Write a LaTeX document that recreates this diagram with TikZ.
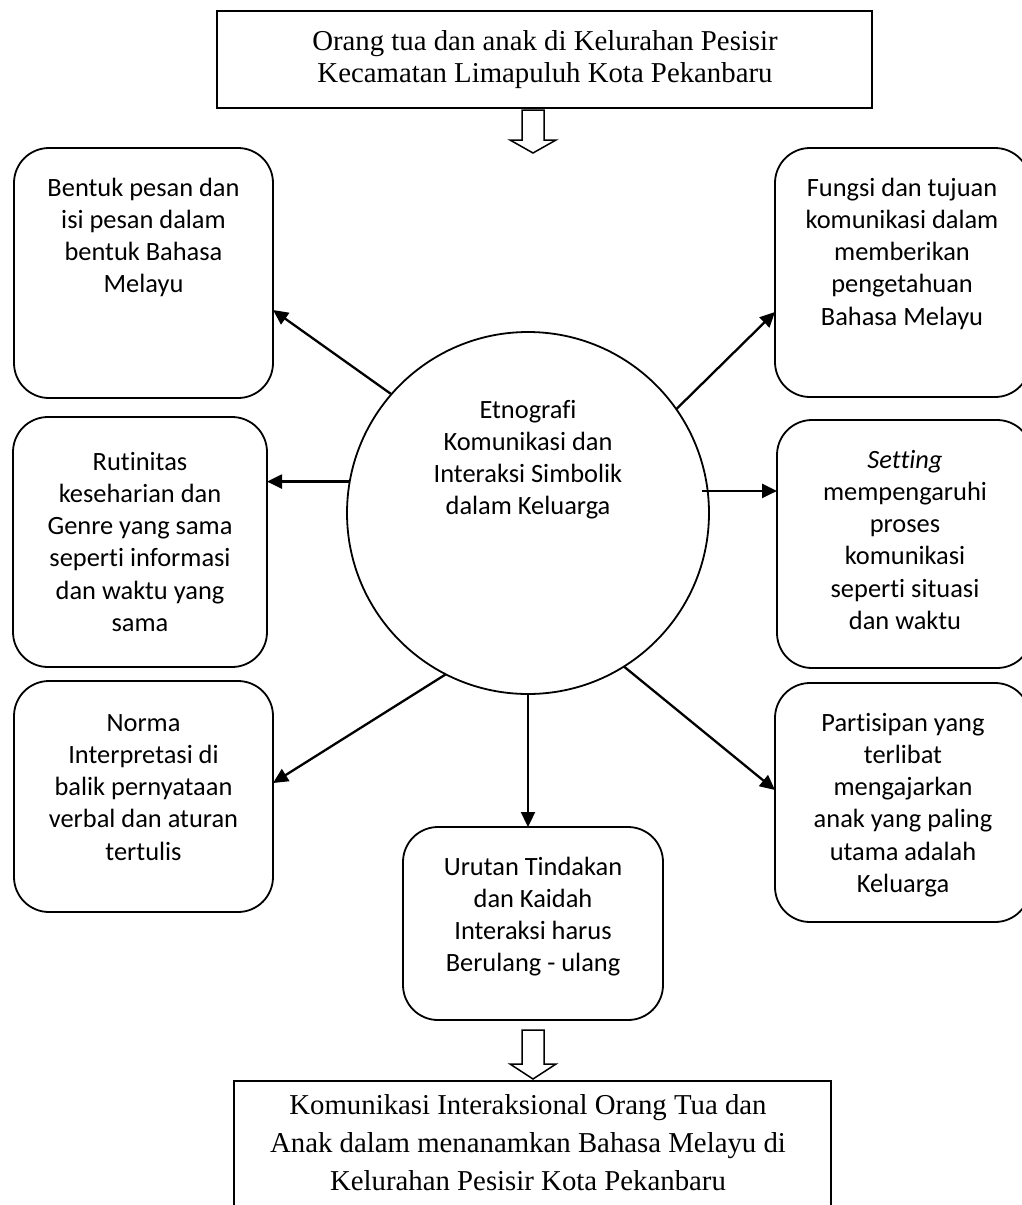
\documentclass[tikz,border=0pt]{standalone}
\usepackage{fontspec}
\setmainfont{Liberation Serif}
\newfontfamily\carlitofont[Ligatures=NoCommon]{Carlito}
\usetikzlibrary{arrows.meta}
\newcommand\sansfs{\carlitofont\fontsize{26.4}{32.2}\selectfont}
\newcommand\seriffs{\rmfamily\fontsize{28.8}{32.5}\selectfont}
\newcommand\seriffswide{\rmfamily\fontsize{28.8}{38}\selectfont}
\begin{document}
\begin{tikzpicture}[x=1pt,y=-1pt,
  rbox/.style={draw, line width=1.8pt, rounded corners=35pt, inner sep=0pt, outer sep=0pt},
  sbox/.style={draw, line width=2.2pt, inner sep=0pt, outer sep=0pt},
  stxt/.style={font=\sansfs, align=center, inner sep=0pt, anchor=north},
  rtxt/.style={font=\seriffs, align=center, inner sep=0pt, anchor=north},
  arr/.style={line width=2.3pt, -{Triangle[length=15pt,width=14pt]}},
  hollow/.style={draw, line width=1.5pt, fill=white}]
\useasboundingbox (0,0) rectangle (1022,1205);
\clip (0,0) rectangle (1022,1205);

% top and bottom boxes
\node[sbox, minimum width=655pt, minimum height=97pt] (top) at (544.5,59.5) {};
\node[rtxt] (toptxt) at (545,27.25) {\strut Orang tua dan anak di Kelurahan Pesisir\\Kecamatan Limapuluh Kota Pekanbaru};
\node[sbox, minimum width=597pt, minimum height=159pt] (bot) at (532.5,1160.5) {};
\node[rtxt, font=\seriffswide] (bottxt) at (528,1087.4) {\strut Komunikasi Interaksional Orang Tua dan\\Anak dalam menanamkan Bahasa Melayu di\\Kelurahan Pesisir Kota Pekanbaru};

% hollow arrows
\path[hollow] (522,110) -- (522,140) -- (510,140) -- (533,153) -- (556,140) -- (544,140) -- (544,110) -- cycle;
\path[hollow] (522,1030) -- (522,1064) -- (510,1064) -- (533,1079) -- (556,1064) -- (544,1064) -- (544,1030) -- cycle;

% left boxes
\node[rbox, minimum width=259pt, minimum height=250pt] (L1) at (143.5,273) {};
\node[stxt] (L1t) at (143.5,173.5) {\strut Bentuk pesan dan\\isi pesan dalam\\bentuk Bahasa\\Melayu};
\node[rbox, minimum width=254pt, minimum height=250pt] (L2) at (140,542) {};
\node[stxt] (L2t) at (140,447.5) {\strut Rutinitas\\keseharian dan\\Genre yang sama\\seperti informasi\\dan waktu yang\\sama};
\node[rbox, minimum width=259pt, minimum height=231pt] (L3) at (143.5,796.5) {};
\node[stxt] (L3t) at (143.5,708.5) {\strut Norma\\Interpretasi di\\balik pernyataan\\verbal dan aturan\\tertulis};

% right boxes
\node[rbox, minimum width=255pt, minimum height=249pt] (R1) at (902.5,272.5) {};
\node[stxt] (R1t) at (902,173.5) {\strut Fungsi dan tujuan\\komunikasi dalam\\memberikan\\pengetahuan\\Bahasa Melayu};
\node[rbox, minimum width=255pt, minimum height=248pt] (R2) at (904.5,544) {};
\node[stxt] (R2t) at (905,445.5) {\strut\textit{Setting}\\mempengaruhi\\proses\\komunikasi\\seperti situasi\\dan waktu};
\node[rbox, minimum width=255pt, minimum height=239pt] (R3) at (902.5,802.5) {};
\node[stxt] (R3t) at (903,708.5) {\strut Partisipan yang\\terlibat\\mengajarkan\\anak yang paling\\utama adalah\\Keluarga};

% middle box
\node[rbox, minimum width=260pt, minimum height=193pt] (M) at (533,923.5) {};
\node[stxt] (Mt) at (533,852.5) {\strut Urutan Tindakan\\dan Kaidah\\Interaksi harus\\Berulang - ulang};

% circle
\node[draw, circle, line width=1.8pt, minimum size=362pt, inner sep=0pt, outer sep=0pt] (c) at (528,513) {};
\node[stxt] (ct) at (528,395.5) {\strut Etnografi\\Komunikasi dan\\Interaksi Simbolik\\dalam Keluarga};

% connectors
\draw[arr] (c.139) -- ([yshift=-37pt]L1.east);
\draw[arr] (c.170) -- (c.170 -| L2.east);
\draw[arr] (c.243) -- ([yshift=13.5pt]L3.east);
\draw[arr] (c.35) -- ([yshift=-39.5pt]R1.west);
\draw[arr] ([xshift=-6pt]c.7) -- (c.7 -| R2.west);
\draw[arr] (c.302) -- ([yshift=12.5pt]R3.west);
\draw[arr] (c.south) -- (c.south |- M.north);
\end{tikzpicture}
\end{document}
